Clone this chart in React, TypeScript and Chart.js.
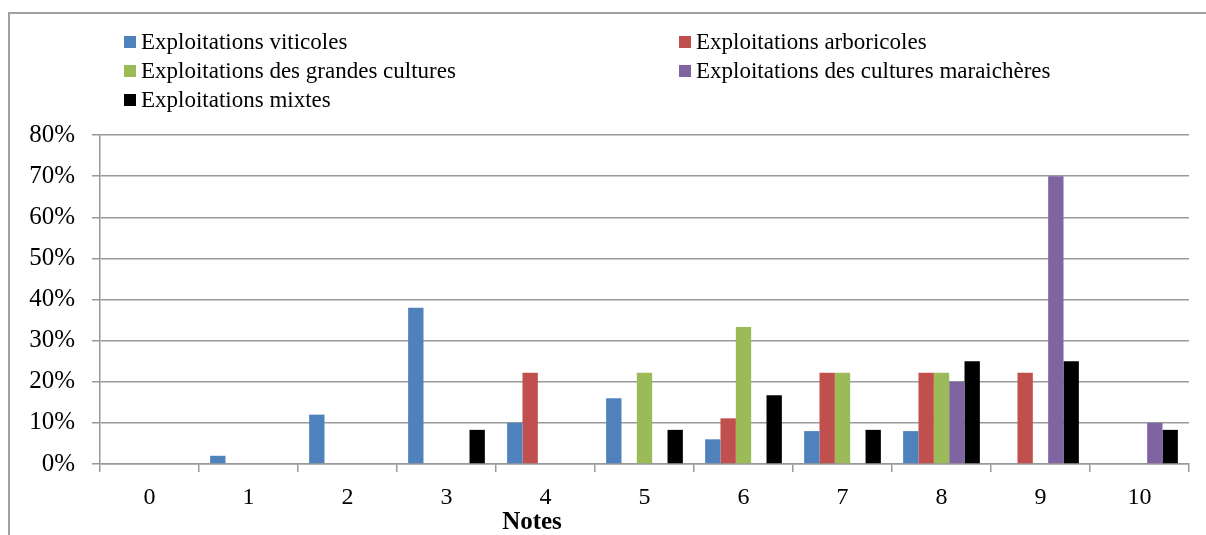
import React, { useEffect, useRef } from "react";
import { Chart, registerables } from "chart.js";

Chart.register(...registerables);

const categories = ["0", "1", "2", "3", "4", "5", "6", "7", "8", "9", "10"];
const seriesNames = [
  "Exploitations viticoles",
  "Exploitations arboricoles",
  "Exploitations des grandes cultures",
  "Exploitations des cultures maraichères",
  "Exploitations mixtes",
];
const seriesColors = ["#4F81BD", "#C0504D", "#9BBB59", "#8064A2", "#000000"];
const viticoles = [0, 2, 12, 38, 10, 16, 6, 8, 8, 0, 0];
const arboricoles = [0, 0, 0, 0, 22.2, 0, 11.1, 22.2, 22.2, 22.2, 0];
const grandesCultures = [0, 0, 0, 0, 0, 22.2, 33.3, 22.2, 22.2, 0, 0];
const maraicheres = [0, 0, 0, 0, 0, 0, 0, 0, 20, 70, 10];
const mixtes = [0, 0, 0, 8.3, 0, 8.3, 16.7, 8.3, 25, 25, 8.3];
const seriesValues = [viticoles, arboricoles, grandesCultures, maraicheres, mixtes];
const yTicks = [0, 10, 20, 30, 40, 50, 60, 70, 80];
const xTitle = "Notes";

const FONT = "'Liberation Serif', 'Times New Roman', serif";

const legendPos = [
  { left: 116, top: 34 },
  { left: 671, top: 34 },
  { left: 116, top: 63 },
  { left: 671, top: 63 },
  { left: 116, top: 92 },
];

export default function App() {
  const ref = useRef<HTMLCanvasElement | null>(null);

  useEffect(() => {
    if (!ref.current) return;
    const titlePlugin = {
      id: "xTitle",
      afterDraw(chart: any) {
        const ctx = chart.ctx;
        ctx.save();
        ctx.font = `bold 25px ${FONT}`;
        ctx.fillStyle = "#000";
        ctx.textAlign = "center";
        ctx.textBaseline = "middle";
        ctx.fillText(xTitle, 524, 515);
        ctx.restore();
      },
    };
    const chart = new Chart(ref.current, {
      type: "bar",
      data: {
        labels: categories,
        datasets: seriesValues.map((vals, i) => ({
          label: seriesNames[i],
          data: vals,
          backgroundColor: seriesColors[i],
          borderWidth: 0,
          categoryPercentage: 0.775,
          barPercentage: 1,
        })),
      },
      options: {
        animation: false,
        responsive: false,
        maintainAspectRatio: false,
        layout: { padding: { left: 0, right: 17, top: 127, bottom: 0 } },
        plugins: {
          legend: { display: false },
          tooltip: { enabled: false },
        },
        scales: {
          x: {
            offset: true,
            grid: {
              offset: true,
              drawOnChartArea: false,
              drawTicks: true,
              tickLength: 8,
              color: "#999",
              lineWidth: 1.5,
            },
            border: { color: "#999", width: 1.5 },
            ticks: {
              color: "#000",
              font: { family: FONT, size: 24 },
              padding: 11,
              maxRotation: 0,
            },
            afterFit(scale: any) {
              scale.height = 71;
            },
          },
          y: {
            min: 0,
            max: 80,
            afterBuildTicks(scale: any) {
              scale.ticks = yTicks.map((v) => ({ value: v }));
            },
            grid: {
              color: "#999",
              lineWidth: 1.5,
              drawTicks: true,
              tickLength: 8,
            },
            border: { color: "#999", width: 1.5 },
            ticks: {
              color: "#000",
              font: { family: FONT, size: 25 },
              padding: 17,
              callback: (v: any) => `${v}%`,
            },
            afterFit(scale: any) {
              scale.width = 92;
            },
          },
        },
      },
      plugins: [titlePlugin],
    });
    return () => chart.destroy();
  }, []);

  return (
    <div style={{ position: "fixed", left: 8, top: 8, width: 1198, height: 527, overflow: "hidden" }}>
      <div
        style={{
          position: "absolute",
          left: 0,
          top: 4,
          width: 1300,
          height: 600,
          borderLeft: "2px solid #a0a0a0",
          borderTop: "2px solid #a0a0a0",
          boxSizing: "border-box",
        }}
      />
      <canvas ref={ref} width={1198} height={527} style={{ position: "absolute", left: 0, top: 0 }} />
      {seriesNames.map((name, i) => (
        <div
          key={name}
          style={{
            position: "absolute",
            left: legendPos[i].left,
            top: legendPos[i].top - 14,
            height: 28,
            display: "flex",
            alignItems: "center",
            fontFamily: FONT,
            fontSize: 23,
            color: "#000",
            whiteSpace: "nowrap",
          }}
        >
          <span
            style={{
              display: "inline-block",
              width: 12,
              height: 12,
              background: seriesColors[i],
              marginRight: 5,
            }}
          />
          <span>{name}</span>
        </div>
      ))}
    </div>
  );
}
